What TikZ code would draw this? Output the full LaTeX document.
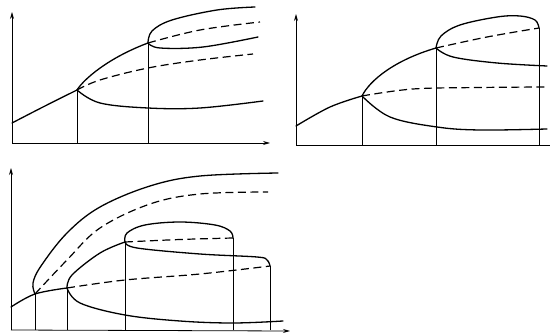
\documentclass[tikz,border=0pt]{standalone}
\usetikzlibrary{arrows.meta}
\begin{document}
\begin{tikzpicture}[x=1pt,y=-1pt,
  axis/.style={line width=0.8pt,-{Stealth[length=7pt,width=4pt]}},
  axisplain/.style={line width=0.8pt},
  branch/.style={line width=1.3pt,line cap=round},
  unstable/.style={line width=1.2pt,dash pattern=on 8pt off 4.5pt},
  guide/.style={line width=0.7pt},
  every plot/.style={smooth,tension=0.6}]
\useasboundingbox (0,0) rectangle (553,336);

% ---------- Panel 1 ----------
\coordinate (a1) at (77,90);
\coordinate (b1) at (148,43);
\draw[axis] (12,143) -- (12,12);
\draw[axis] (12,143) -- (270,143);
\draw[guide] (77,143) -- (a1);
\draw[guide] (148,143) -- (b1);
\draw[branch] plot coordinates {(12,123) (43,107) (77,90)};
\draw[branch] (a1) .. controls (84,79) and (108,58) .. (b1);
\draw[unstable] plot coordinates {(77,90) (100,80) (148,68) (200,60) (253,54)};
\draw[branch] plot coordinates {(77,90) (100,103) (148,108) (200,108) (263,101)};
\draw[branch] plot coordinates {(148,43) (152,31) (172,20) (217,10) (255,7)};
\draw[unstable] plot coordinates {(148,43) (200,30) (260,22)};
\draw[branch] plot coordinates {(148,43) (160,48) (203,47) (258,37)};

% ---------- Panel 2 ----------
\coordinate (a2) at (362,96);
\coordinate (b2) at (436,48);
\draw[axis] (296,145) -- (296,14);
\draw[axisplain] (296,145) -- (550,145);
\draw[guide] (362,145) -- (a2);
\draw[guide] (436,145) -- (b2);
\draw[guide] (539,145) -- (539,28);
\draw[branch] plot coordinates {(296,126) (330,107) (362,96)};
\draw[branch] (a2) .. controls (370,80) and (395,60) .. (b2);
\draw[unstable] plot coordinates {(362,96) (413,89) (480,87.5) (547,87)};
\draw[branch] plot coordinates {(362,96) (390,117) (437,127) (480,130) (547,129)};
\draw[branch] plot coordinates {(436,48) (441,36) (460,25) (497,17) (520,16) (535,20) (539,28)};
\draw[unstable] plot coordinates {(436,48) (487,37) (539,28)};
\draw[branch] plot coordinates {(436,48) (453,57) (497,63) (547,66)};

% ---------- Panel 3 ----------
\coordinate (a3) at (35,294);
\coordinate (b3) at (67,288);
\coordinate (c3) at (125,242);
\coordinate (d3) at (233,238);
\coordinate (e3) at (270,266);
\draw[axis] (11,330) -- (11,168);
\draw[axis] (11,330) -- (290,331);
\draw[guide] (35,330) -- (a3);
\draw[guide] (67,330) -- (b3);
\draw[guide] (125,330) -- (c3);
\draw[guide] (233,330) -- (d3);
\draw[guide] (270,330) -- (e3);
\draw[branch] plot coordinates {(11,307) (35,294) (67,288)};
\draw[branch] plot coordinates {(35,294) (33,283) (41,266) (67,233) (100,207) (150,186) (200,176) (278,173)};
\draw[unstable] plot coordinates {(35,294) (67,260) (100,228) (150,204) (200,194) (268,192)};
\draw[branch] plot coordinates {(67,288) (72,275) (100,253) (125,242)};
\draw[unstable] plot coordinates {(67,288) (125,280) (200,274) (270,266)};
\draw[branch] plot coordinates {(67,288) (80,303) (125,315) (180,321) (233,323) (283,321)};
\draw[branch] plot coordinates {(125,242) (127,233) (145,225) (180,222) (215,225) (230,231) (233,238)};
\draw[unstable] plot coordinates {(125,242) (180,239.5) (233,238)};
\draw[branch] plot coordinates {(125,242) (137,248) (200,254) (257,257) (267,260) (270,266)};
\end{tikzpicture}
\end{document}
